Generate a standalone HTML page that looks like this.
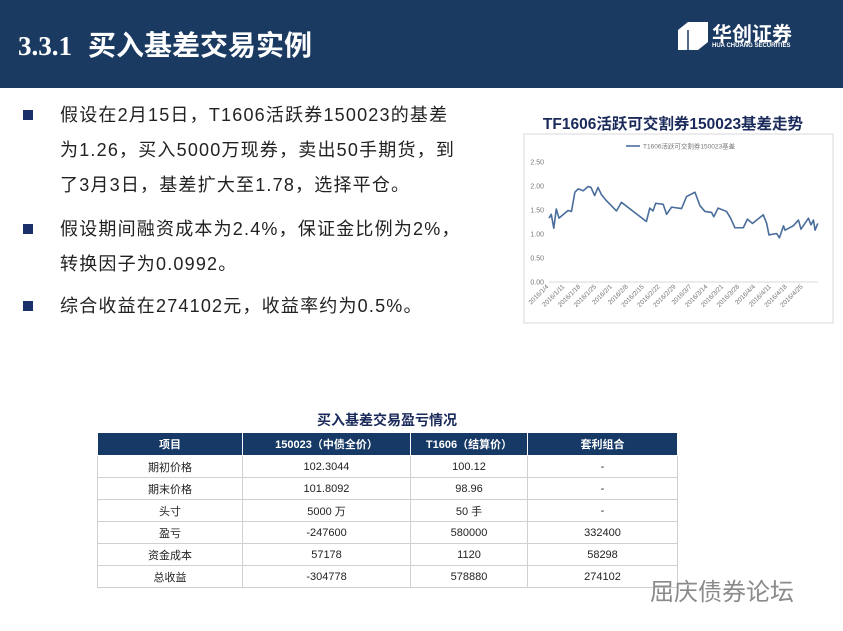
<!DOCTYPE html>
<html><head><meta charset="utf-8">
<style>
*{margin:0;padding:0;box-sizing:border-box}
body{width:843px;height:631px;background:#fff;position:relative;overflow:hidden;font-family:"Liberation Sans","Noto Sans CJK SC",sans-serif}
.hdr{position:absolute;left:0;top:0;width:843px;height:88px;background:#1b3a62}
.title{position:absolute;left:18px;top:24px;color:#fff;font-weight:bold;font-size:28px;white-space:nowrap}
.title .n{font-family:"Liberation Serif",serif;font-size:27px;margin-right:16px}
.logo{position:absolute;left:678px;top:18px;color:#fff}
.bl{position:absolute;left:23px;width:10px;height:10px;background:#1b2f6a}
.tx{position:absolute;left:60px;font-size:18px;color:#222;white-space:nowrap;line-height:20px;letter-spacing:1.2px}
table{position:absolute;left:97px;top:432px;width:580px;border-collapse:collapse;font-size:11px;font-family:"Liberation Sans","Noto Sans CJK SC",sans-serif;table-layout:fixed}
td,th{border:1px solid #d0d0d0;text-align:center;height:22px;color:#222}
th{background:#173966;color:#fff;font-weight:bold;height:23px;border-color:#fff}
</style></head><body>
<div class="hdr">
 <div class="title"><span class="n">3.3.1</span>买入基差交易实例</div>
 <div class="logo">
  <svg width="30" height="28" style="position:absolute;left:0;top:4px"><polygon points="0,8 10,0 30,0 30,20 20,28 0,28" fill="#fff"/><line x1="10" y1="8" x2="10" y2="28" stroke="#1b3a62" stroke-width="1.5"/></svg>
  <div style="position:absolute;left:34px;top:0;font-size:20px;font-weight:bold;white-space:nowrap">华创证券</div>
  <div style="position:absolute;left:34px;top:25px;font-size:6px;font-weight:bold;white-space:nowrap">HUA CHUANG SECURITIES</div>
 </div>
</div>

<div class="bl" style="top:110px"></div>
<div class="tx" style="top:105px">假设在2月15日，T1606活跃券150023的基差</div>
<div class="tx" style="top:140px">为1.26，买入5000万现券，卖出50手期货，到</div>
<div class="tx" style="top:175px">了3月3日，基差扩大至1.78，选择平仓。</div>
<div class="bl" style="top:224px"></div>
<div class="tx" style="top:219px">假设期间融资成本为2.4%，保证金比例为2%，</div>
<div class="tx" style="top:254px">转换因子为0.0992。</div>
<div class="bl" style="top:301px"></div>
<div class="tx" style="top:296px">综合收益在274102元，收益率约为0.5%。</div>

<div style="position:absolute;left:520px;top:112px;width:306px;text-align:center;font-size:15.5px;font-weight:bold;color:#1a2a5a;white-space:nowrap">TF1606活跃可交割券150023基差走势</div>
<svg id="chart" style="position:absolute;left:0;top:0" width="843" height="631"></svg>

<div style="position:absolute;left:97px;top:410px;width:580px;text-align:center;font-size:14px;font-weight:bold;color:#1a2a5a">买入基差交易盈亏情况</div>
<table>
<colgroup><col style="width:145px"><col style="width:168px"><col style="width:117px"><col style="width:150px"></colgroup>
<tr><th>项目</th><th>150023（中债全价）</th><th>T1606（结算价）</th><th>套利组合</th></tr>
<tr><td>期初价格</td><td>102.3044</td><td>100.12</td><td>-</td></tr>
<tr><td>期末价格</td><td>101.8092</td><td>98.96</td><td>-</td></tr>
<tr><td>头寸</td><td>5000 万</td><td>50 手</td><td>-</td></tr>
<tr><td>盈亏</td><td>-247600</td><td>580000</td><td>332400</td></tr>
<tr><td>资金成本</td><td>57178</td><td>1120</td><td>58298</td></tr>
<tr><td>总收益</td><td>-304778</td><td>578880</td><td>274102</td></tr>
</table>
<div style="position:absolute;left:650px;top:572px;font-size:24px;color:#8a8a8a;white-space:nowrap">屈庆债券论坛</div>

<script>
const days=[0,1,2.1,3.2,4.4,6.9,8.4,9.9,11.4,12.9,15.1,17.2,18.5,20.1,21.6,23.1,25,29.7,30.7,31.9,42.9,44.4,45.8,47,50.3,51.8,54,58.4,60.6,64.3,66.5,68.7,71.6,72.6,74.5,78.2,80,81.9,85.6,87.4,89.6,94.4,95.9,96.9,100.3,101.5,103.3,104,107.6,109.9,111,114.3,115.4,116.5,117.2,118.4];
const values=[1.33,1.41,1.12,1.52,1.33,1.43,1.49,1.47,1.87,1.94,1.90,1.99,1.97,1.80,1.97,1.82,1.71,1.48,1.56,1.66,1.26,1.54,1.48,1.64,1.62,1.41,1.56,1.53,1.78,1.87,1.59,1.47,1.45,1.36,1.54,1.47,1.33,1.13,1.13,1.31,1.22,1.40,1.22,0.98,1.01,0.92,1.17,1.08,1.17,1.29,1.10,1.33,1.19,1.29,1.08,1.22];
const yTicks=["0.00","0.50","1.00","1.50","2.00","2.50"];
const xLabels=["2016/1/4","2016/1/11","2016/1/18","2016/1/25","2016/2/1","2016/2/8","2016/2/15","2016/2/22","2016/2/29","2016/3/7","2016/3/14","2016/3/21","2016/3/28","2016/4/4","2016/4/11","2016/4/18","2016/4/25"];
const svg=document.getElementById('chart');
const NS='http://www.w3.org/2000/svg';
const x=d=>549+d*2.27;
const y=v=>282-v*48;
function mk(t,a){const e=document.createElementNS(NS,t);for(const k in a)e.setAttribute(k,a[k]);svg.appendChild(e);return e;}
const box=mk('rect',{x:524,y:134,width:309,height:189,fill:'#fff',stroke:'#d9d9d9'});


const ax=mk('line',{x1:549,y1:282,x2:818,y2:282,stroke:'#d9d9d9'});


yTicks.forEach(t=>{const e=mk('text',{x:544,y:y(+t)+2.5,'font-size':7,fill:'#777','text-anchor':'end','font-family':'Liberation Sans'});e.textContent=t;

});
xLabels.forEach((t,i)=>{const px=x(i*7),py=287;const e=mk('text',{x:px,y:py,'font-size':6.5,fill:'#777','text-anchor':'end','font-family':'Liberation Sans',transform:`rotate(-45 ${px} ${py})`});e.textContent=t;

});
const ln=mk('polyline',{points:days.map((d,i)=>x(d)+','+y(values[i])).join(' '),fill:'none',stroke:'#4a6d9c','stroke-width':1.6,'stroke-linejoin':'round'});


const lg=mk('line',{x1:626,y1:146,x2:640,y2:146,stroke:'#4a6d9c','stroke-width':1.6});


const lt=mk('text',{x:643,y:148.5,'font-size':6.5,fill:'#777','font-family':'Liberation Sans, Noto Sans CJK SC, sans-serif'});lt.textContent='T1606活跃可交割券150023基差';


</script>
</body></html>
